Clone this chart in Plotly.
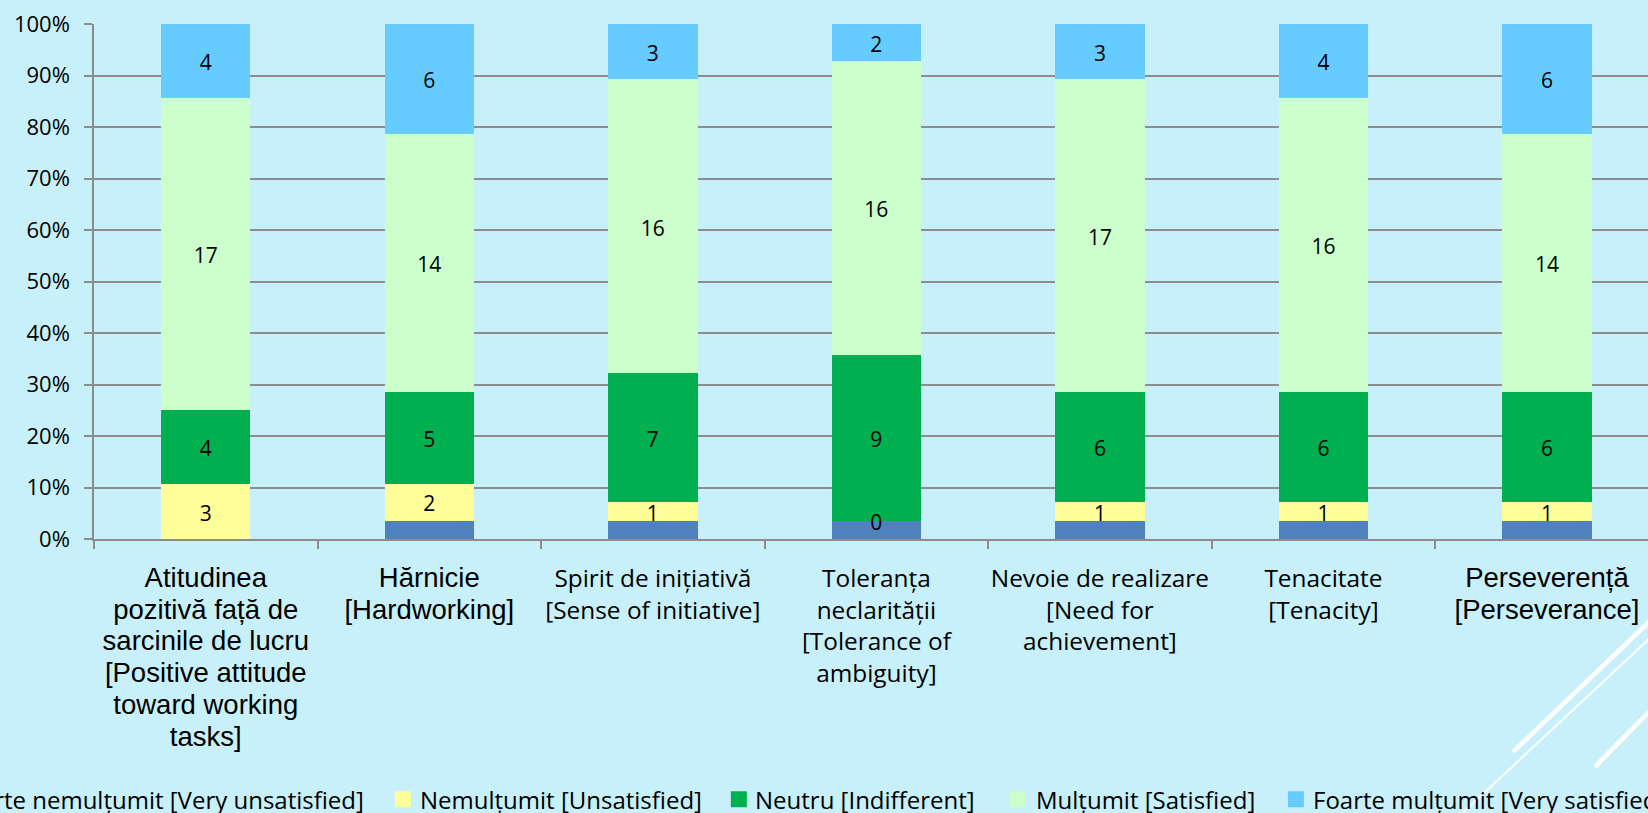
import numpy as np
import plotly.graph_objects as go

# ---------------- data ----------------
category_lines = [
    ["Atitudinea", "pozitivă față de", "sarcinile de lucru", "[Positive attitude", "toward working", "tasks]"],
    ["Hărnicie", "[Hardworking]"],
    ["Spirit de inițiativă", "[Sense of initiative]"],
    ["Toleranța", "neclarității", "[Tolerance of", "ambiguity]"],
    ["Nevoie de realizare", "[Need for", "achievement]"],
    ["Tenacitate", "[Tenacity]"],
    ["Perseverență", "[Perseverance]"],
]
category_arial = [True, True, False, False, False, False, True]

series_names = [
    "Foarte nemulțumit [Very unsatisfied]",
    "Nemulțumit [Unsatisfied]",
    "Neutru [Indifferent]",
    "Mulțumit [Satisfied]",
    "Foarte mulțumit [Very satisfied]",
]
very_unsatisfied = [0, 1, 1, 1, 1, 1, 1]
unsatisfied = [3, 2, 1, 0, 1, 1, 1]
neutral = [4, 5, 7, 9, 6, 6, 6]
satisfied = [17, 14, 16, 16, 17, 16, 14]
very_satisfied = [4, 6, 3, 2, 3, 4, 6]

y_tick_values = [0, 10, 20, 30, 40, 50, 60, 70, 80, 90, 100]
y_tick_labels = ["0%", "10%", "20%", "30%", "40%", "50%", "60%", "70%", "80%", "90%", "100%"]

# ---------------- styles ----------------
colors = ["#4F81BD", "#FFFF99", "#00B050", "#CCFFCC", "#66CCFF"]
show_labels = [False, True, True, True, True]
BG = "#C8F0FA"
GRID = "#8C8C8C"
CAL = "Open Sans"

W, H = 1648, 813
L, R, T, B = 94.25, 1648.0, 23.5, 539.0
CAT_W = 223.5
LABEL_NUDGE_PX = 4  # labels sit slightly below segment centre (font baseline)


def px_x(p):
    return (p - L) / (R - L)


def px_y(p):
    return (B - p) / (B - T)


def fmt_cat(lines, arial):
    if arial:
        return "<br>".join(
            '<span style="font-family:Liberation Sans, Arial;font-size:27.5px">%s</span>' % s for s in lines
        )
    return "<br>".join(lines)


categories = [fmt_cat(l, a) for l, a in zip(category_lines, category_arial)]
series_values = [very_unsatisfied, unsatisfied, neutral, satisfied, very_satisfied]

fig = go.Figure()
for name, vals, col in zip(series_names, series_values, colors):
    fig.add_trace(go.Bar(
        x=categories, y=vals, name=name, marker=dict(color=col, line=dict(width=0)),
        width=0.4, hoverinfo="skip",
    ))

# data labels at segment centres (percent scale)
arr = np.array(series_values, dtype=float)
totals = arr.sum(axis=0)
pct = arr / totals * 100
cum = np.cumsum(pct, axis=0)
centres = cum - pct / 2 - LABEL_NUDGE_PX / (B - T) * 100
for i, vals in enumerate(series_values):
    if not show_labels[i]:
        continue
    fig.add_trace(go.Scatter(
        x=categories, y=centres[i], mode="text", text=[str(v) for v in vals],
        textfont=dict(family=CAL, size=21, color="black"), textposition="middle center",
        showlegend=False, hoverinfo="skip",
    ))

# manual legend (it spills off both edges of the picture in the reference)
legend_square_left = [-90, 395, 731, 1010, 1288]
legend_text_x = [366, 418, 753, 1034, 1311]
legend_anchor = ["right", "left", "left", "left", "left"]
LEG_Y = 799.5
SQ = 16
shapes = []
annotations = []
for name, col, sx, tx, anc in zip(series_names, colors, legend_square_left, legend_text_x, legend_anchor):
    shapes.append(dict(type="rect", xref="paper", yref="paper",
                       x0=px_x(sx), x1=px_x(sx + SQ), y0=px_y(LEG_Y - SQ / 2), y1=px_y(LEG_Y + SQ / 2),
                       fillcolor=col, line=dict(width=0)))
    annotations.append(dict(xref="paper", yref="paper", x=px_x(tx), y=px_y(LEG_Y),
                            xanchor=anc, yanchor="middle", showarrow=False, text=name,
                            font=dict(family=CAL, size=24, color="black")))

# decorative white diagonal strokes (slide background)
for (x0, y0, x1, y1, w) in [(1513, 752, 1700, 573.3, 4.5), (1440, 834.5, 1700, 591.4, 2), (1595, 767, 1700, 660, 4.5)]:
    shapes.append(dict(type="line", xref="paper", yref="paper",
                       x0=px_x(x0), y0=px_y(y0), x1=px_x(x1), y1=px_y(y1),
                       line=dict(color="white", width=w)))

fig.update_layout(
    width=W, height=H,
    paper_bgcolor=BG, plot_bgcolor=BG,
    margin=dict(l=L, r=W - R, t=T, b=H - B, pad=0),
    barmode="stack", barnorm="percent",
    showlegend=False,
    shapes=shapes, annotations=annotations,
    xaxis=dict(
        type="category", range=[-0.5, -0.5 + (R - L) / CAT_W],
        tickson="boundaries", ticks="outside", ticklen=8, tickwidth=1.5, tickcolor=GRID,
        showline=True, linecolor=GRID, linewidth=1.5, showgrid=False,
        tickangle=0, ticklabelstandoff=17,
        tickfont=dict(family=CAL, size=24.4, color="black"),
        fixedrange=True,
    ),
    yaxis=dict(
        range=[0, 100], tickvals=y_tick_values, ticktext=y_tick_labels,
        ticks="outside", ticklen=8, tickwidth=1.5, tickcolor=GRID,
        showline=True, linecolor=GRID, linewidth=1.5,
        showgrid=True, gridcolor=GRID, gridwidth=1.5, zeroline=False,
        ticklabelstandoff=10,
        tickfont=dict(family=CAL, size=22, color="black"),
        fixedrange=True,
    ),
)

fig.write_html(
    "out.html",
    config={"displayModeBar": False},
    post_script="document.body.style.margin='0';document.body.style.overflow='hidden';",
)
